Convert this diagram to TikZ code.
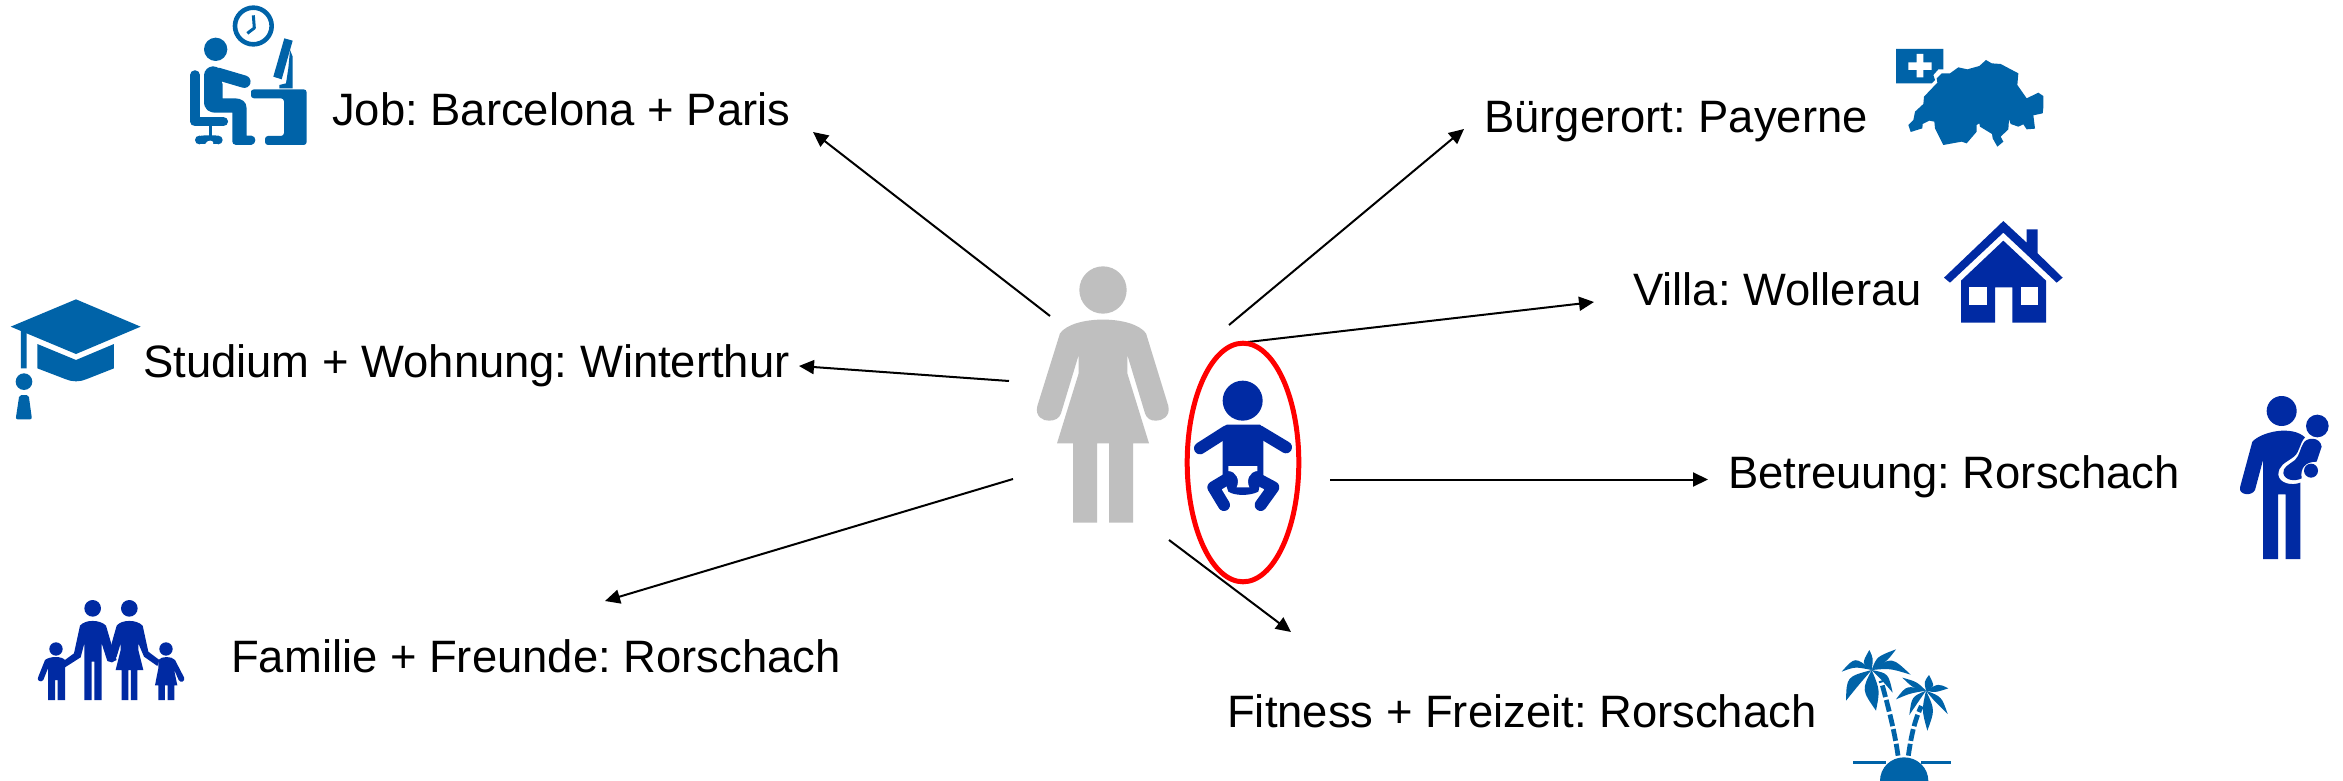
\documentclass[tikz,border=0pt]{standalone}
\usepackage{fontspec}
\setmainfont{Liberation Sans}
\usetikzlibrary{arrows.meta}
\definecolor{iconA}{RGB}{0,99,168}
\definecolor{iconB}{RGB}{0,42,163}
\definecolor{personGrey}{RGB}{191,191,191}
\definecolor{ringRed}{RGB}{255,0,0}
\tikzset{
  zoomed/.style 2 args={shift={(#1,#2)},x=0.33333pt,y=-0.33333pt},
  lbl/.style={anchor=base west,inner sep=0pt,text=black,font=\fontsize{45.4}{50}\selectfont\frenchspacing},
  conn/.style={draw=black,line width=2pt,-{Triangle[length=15pt,width=14pt]}},
  ring/.style={draw=ringRed,line width=5pt},
}
\newcommand{\leaf}[4]{\fill[iconA] #1 .. controls #2 .. #3 .. controls #4 .. #1;}
\begin{document}
\begin{tikzpicture}[x=1pt,y=-1pt]
\useasboundingbox (0,0) rectangle (2343,781);
\fill[white] (0,0) rectangle (2343,781);

% labels
\node[lbl] (job) at (332,126) {Job: Barcelona + Paris};
\node[lbl] (stud) at (143,377.5) {Studium + Wohnung: Winterthur};
\node[lbl] (fam) at (231,672.5) {Familie + Freunde: Rorschach};
\node[lbl] (bur) at (1484,133) {Bürgerort: Payerne};
\node[lbl] (villa) at (1633,305.5) {Villa: Wollerau};
\node[lbl] (bet) at (1728,488) {Betreuung: Rorschach};
\node[lbl] (fit) at (1227,727) {Fitness + Freizeit: Rorschach};

% connector ends
\coordinate (a1) at (1050,316); \coordinate (b1) at (813,132);
\coordinate (a2) at (1009,381); \coordinate (b2) at (799,366);
\coordinate (a3) at (1013,479); \coordinate (b3) at (605,601);
\coordinate (a4) at (1229,325); \coordinate (b4) at (1464,129);
\coordinate (a5) at (1248,342); \coordinate (b5) at (1594,302);
\coordinate (a6) at (1330,479.5); \coordinate (b6) at (1708,479.5);
\coordinate (a7) at (1169,540); \coordinate (b7) at (1291,632);
\foreach \i in {1,...,7} {\draw[conn] (a\i) -- (b\i);}

% red ring
\draw[ring] (1243,462.5) ellipse [x radius=55.8,y radius=119.3];

% woman + baby
\begin{scope}[zoomed={1010}{250}]
  \fill[personGrey] (279,120) circle [radius=71];
  \fill[personGrey] (150,250) .. controls (190,195) and (368,195) .. (408,250)
    -- (475,468) .. controls (482,500) and (455,513) .. (438,512)
    .. controls (420,512) and (410,505) .. (405,490)
    -- (352,315) -- (352,370) -- (417,580) -- (369,580) -- (369,818) -- (297,818) -- (297,580)
    -- (261,580) -- (261,818) -- (189,818) -- (189,580) -- (141,580) -- (206,370) -- (206,315)
    -- (153,490) .. controls (148,505) and (135,512) .. (117,512)
    .. controls (100,513) and (74,500) .. (82,468) -- cycle;
  % baby
  \fill[iconB] (698,452) circle [radius=60];
  \fill[iconB] (650,524) -- (750,524) -- (760,535) -- (760,670) -- (760,690) -- (638,690) -- (638,535) -- cycle;
  \draw[iconB,line width=12pt,line cap=round] (650,544) -- (570,595);
  \draw[iconB,line width=12pt,line cap=round] (748,544) -- (828,592);
  \draw[iconB,line width=12pt,line cap=round,line join=round] (650,688) -- (610,712) -- (642,765);
  \draw[iconB,line width=12pt,line cap=round,line join=round] (745,688) -- (790,712) -- (752,765);
  \fill[iconB] (640,680) -- (755,680) -- (745,725) .. controls (720,738) and (675,738) .. (655,725) -- cycle;
  \fill[white] (655,648) -- (742,648) -- (742,663) .. controls (718,665) and (708,690) .. (718,712)
     -- (680,712) .. controls (690,690) and (680,665) .. (655,663) -- cycle;
\end{scope}

% job icon
\begin{scope}[zoomed={150}{0}]
  \draw[iconA,line width=4.6pt] (310,78) circle [radius=55];
  \draw[iconA,line width=3pt,line join=round] (310,46) -- (313,84) -- (292,100);
  \fill[iconA] (197,148) circle [radius=35];
  \fill[iconA] (403,115) -- (428,122) -- (395,238) -- (370,230) -- cycle;
  \fill[iconA] (420,150) -- (428,170) -- (428,265) -- (388,265) -- (388,255) -- (408,250) -- (415,205) -- cycle;
  \fill[iconA,rounded corners=3pt] (303,280) -- (303,268) -- (470,268) -- (470,435) -- (345,435) -- (345,408) -- (402,408) -- (402,295) -- (303,295) -- cycle;
  % chair
  \draw[iconA,line width=9.5pt,line cap=round,line join=round] (135,225) -- (135,365) -- (220,365);
  \draw[iconA,line width=3.6pt] (182,365) -- (182,408);
  \fill[iconA] (148,408) .. controls (165,405) and (200,405) .. (205,408) -- (205,432) -- (148,432) -- cycle;
  \fill[iconA] (148,420) circle [radius=13];
  \fill[iconA] (205,420) circle [radius=13];
  \fill[white] (165,433) .. controls (170,418) and (195,418) .. (190,434) -- cycle;
  % person
  \draw[iconA,line width=18pt,line cap=round,line join=round] (190,226) -- (190,308);
  \fill[iconA] (163,300) .. controls (163,330) and (175,338) .. (200,338) -- (247,338) -- (247,420) .. controls (247,430) and (250,435) .. (258,435) -- (304,435) .. controls (320,432) and (320,408) .. (304,407)
    -- (290,407) -- (290,325) .. controls (290,305) and (275,295) .. (255,295) -- (218,295) -- (218,250) -- (163,250) -- cycle;
  \draw[iconA,line width=12.5pt,line cap=round] (205,222) -- (283,245);
\end{scope}

% graduation cap
\begin{scope}[zoomed={0}{280}]
  \fill[iconA] (32,140) -- (228,58) -- (422,140) -- (228,222) -- cycle;
  \fill[iconA] (112,192) -- (228,240) -- (342,192) -- (342,265) -- (258,298) .. controls (240,306) and (216,306) .. (198,298) -- (112,265) -- cycle;
  \fill[iconA] (63,148) -- (80,156) -- (80,265) -- (63,265) -- cycle;
  \fill[iconA] (72,305) circle [radius=25];
  \fill[iconA,rounded corners=2pt] (58,345) -- (86,345) -- (96,418) -- (47,418) -- cycle;
\end{scope}

% family
\begin{scope}[zoomed={20}{580}]
  \fill[iconB] (218,85) circle [radius=25];
  \fill[iconB] (328,85) circle [radius=25];
  \fill[iconB] (108,207) circle [radius=20];
  \fill[iconB] (438,207) circle [radius=20];
  % father
  \fill[iconB] (180,137) .. controls (195,118) and (240,118) .. (258,137)
    -- (275,195) -- (290,240) -- (275,247) -- (262,243) -- (245,190) -- (245,360) -- (223,360) -- (223,245) -- (215,245) -- (215,360) -- (193,360)
    -- (193,190) -- (182,232) -- (135,262) -- (128,245) -- (162,220) -- cycle;
  % mother
  \fill[iconB] (290,137) .. controls (305,118) and (350,118) .. (368,137)
    -- (385,215) -- (418,240) -- (412,258) -- (372,230) -- (355,190) -- (355,210) -- (370,270) -- (352,270) -- (352,360) -- (333,360) -- (333,270) -- (325,270) -- (325,360) -- (305,360) -- (305,270) -- (287,270) -- (302,210) -- (302,190) -- (290,230) -- (278,247) -- (265,235) -- (275,190) -- cycle;
  % left child
  \fill[iconB] (75,240) .. controls (90,228) and (125,228) .. (135,240) -- (135,360) -- (113,360) -- (113,300) -- (105,300) -- (105,360) -- (84,360) -- (84,265) -- (70,300) .. controls (62,310) and (48,300) .. (55,290) -- cycle;
  % right child
  \fill[iconB] (415,240) .. controls (425,228) and (455,228) .. (465,240) -- (492,292) .. controls (496,305) and (482,310) .. (476,300) -- (462,268) -- (472,316) -- (463,316) -- (463,360) -- (443,360) -- (443,316) -- (435,316) -- (435,360) -- (415,360) -- (415,316) -- (405,316) -- (415,265) -- cycle;
\end{scope}

% Switzerland
\begin{scope}[zoomed={1880}{30}]
  \fill[iconA] (48,57) -- (190,57) -- (190,118) -- (175,118) -- (160,135) -- (165,150) -- (155,160) -- (48,160) -- cycle;
  \fill[white] (85,97) -- (110,97) -- (110,72) -- (130,72) -- (130,97) -- (155,97) -- (155,120) -- (130,120) -- (130,142) -- (110,142) -- (110,120) -- (85,120) -- cycle;
  \fill[iconA] (172,158) -- (170,145) -- (185,130) -- (210,130) -- (235,112) -- (262,118) -- (298,108) -- (318,90) -- (335,100) -- (362,102) -- (415,130) -- (412,165) -- (440,205) -- (475,188) -- (490,198) -- (490,232) -- (488,250) -- (460,256) -- (465,296) -- (440,298) -- (430,283) -- (415,290) -- (392,282) -- (387,268) -- (385,298) -- (362,320) -- (370,335) -- (352,350) -- (338,325) -- (336,312) -- (300,290) -- (298,280) -- (290,285) -- (290,305) -- (260,340) -- (245,335) -- (190,345) -- (165,295) -- (163,275) -- (148,272) -- (128,282) -- (127,295) -- (92,306) -- (85,285) -- (100,270) -- (105,245) -- (130,222) -- (132,200) -- cycle;
\end{scope}

% house
\begin{scope}[zoomed={1930}{210}]
  \fill[iconB] (42,203) -- (220,33) -- (290,98) -- (290,58) -- (323,58) -- (323,130) -- (398,203) -- (380,218) -- (220,68) -- (60,218) -- cycle;
  \fill[iconB] (93,212) -- (220,92) -- (348,212) -- (348,338) -- (247,338) -- (247,232) -- (195,232) -- (195,338) -- (93,338) -- cycle;
  \fill[white] (118,232) rectangle (170,284);
  \fill[white] (272,232) rectangle (323,284);
\end{scope}

% carer
\begin{scope}[zoomed={2220}{380}]
  \fill[iconB] (185,93) circle [radius=45];
  \fill[iconB] (292,138) circle [radius=34];
  \fill[iconB] (97,185) .. controls (125,155) and (215,135) .. (255,172)
    .. controls (238,190) and (240,215) .. (222,230)
    .. controls (195,250) and (175,255) .. (175,285)
    .. controls (178,310) and (215,318) .. (241,308)
    -- (241,537) -- (197,537) -- (197,343) -- (174,343) -- (174,537) -- (129,537) -- (129,240) -- (105,330)
    .. controls (95,350) and (55,345) .. (60,322) -- cycle;
  \fill[iconB] (250,190) .. controls (258,172) and (300,168) .. (305,200) -- (290,245)
    .. controls (255,245) and (240,265) .. (245,295)
    .. controls (225,305) and (195,302) .. (190,280)
    .. controls (188,262) and (205,255) .. (225,240)
    .. controls (240,225) and (240,205) .. (250,190) -- cycle;
  \fill[iconB] (273,272) circle [radius=21];
\end{scope}

% palm
\begin{scope}[zoomed={1820}{640}]
  \fill[iconA] (100,362) rectangle (198,373);
  \fill[iconA] (302,362) rectangle (393,373);
  \fill[iconA] (180,423) .. controls (180,383) and (212,352) .. (252,352) .. controls (292,352) and (325,383) .. (325,423) -- cycle;
  \draw[iconA,line width=4.8pt,dash pattern=on 12pt off 3pt] (234,347) .. controls (225,280) and (205,200) .. (183,122);
  \draw[iconA,line width=4.8pt,dash pattern=on 12pt off 3pt] (265,347) .. controls (272,300) and (280,250) .. (304,198);
  \leaf{(155,90)}{(125,70)}{(148,30)}{(160,55)}
  \leaf{(155,90)}{(170,50)}{(228,28)}{(200,65)}
  \leaf{(155,90)}{(105,50)}{(65,95)}{(105,80)}
  \leaf{(155,90)}{(215,50)}{(272,104)}{(210,85)}
  \leaf{(155,90)}{(80,110)}{(78,182)}{(120,130)}
  \leaf{(155,90)}{(125,150)}{(168,212)}{(180,150)}
  \leaf{(155,90)}{(205,100)}{(218,158)}{(185,120)}
  \leaf{(318,152)}{(290,125)}{(247,113)}{(280,145)}
  \leaf{(318,152)}{(312,125)}{(327,105)}{(345,140)}
  \leaf{(318,152)}{(355,130)}{(385,145)}{(345,158)}
  \leaf{(318,152)}{(260,135)}{(228,178)}{(270,160)}
  \leaf{(318,152)}{(275,170)}{(268,225)}{(295,185)}
  \leaf{(318,152)}{(305,210)}{(322,272)}{(345,210)}
  \leaf{(318,152)}{(365,170)}{(383,222)}{(340,180)}
\end{scope}
\end{tikzpicture}
\end{document}
